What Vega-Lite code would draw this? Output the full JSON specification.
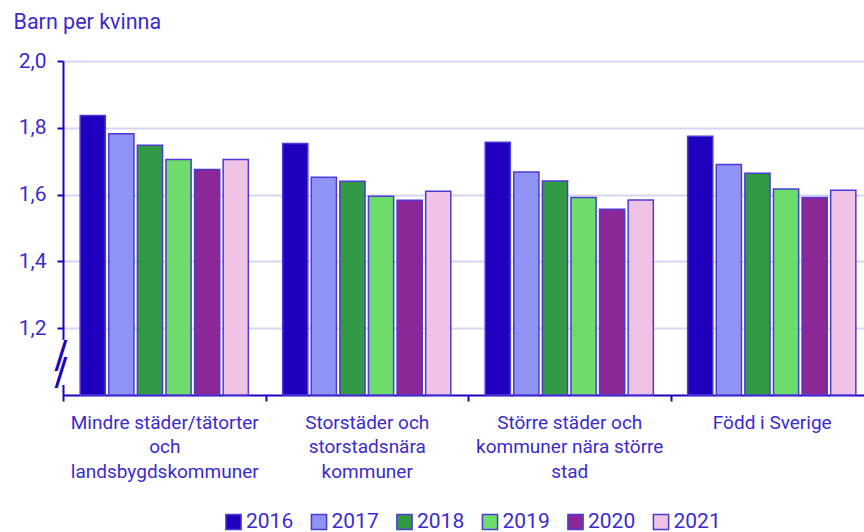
{
  "$schema": "https://vega.github.io/schema/vega-lite/v6.json",
  "width": 801,
  "height": 334,
  "autosize": {"type": "none"},
  "padding": {"left": 63, "top": 61, "right": 0, "bottom": 137},
  "background": "white",
  "config": {
    "font": "Roboto",
    "view": {"stroke": null},
    "axis": {"labelColor": "#3a2bd0", "titleColor": "#3a2bd0", "domainColor": "#2000bf", "tickColor": "#2000bf", "domainWidth": 2, "tickWidth": 2}
  },
  "data": {
    "values": [
      {"grupp": "Mindre städer/tätorter och landsbygdskommuner", "ar": "2016", "varde": 1.837},
      {"grupp": "Mindre städer/tätorter och landsbygdskommuner", "ar": "2017", "varde": 1.782},
      {"grupp": "Mindre städer/tätorter och landsbygdskommuner", "ar": "2018", "varde": 1.748},
      {"grupp": "Mindre städer/tätorter och landsbygdskommuner", "ar": "2019", "varde": 1.705},
      {"grupp": "Mindre städer/tätorter och landsbygdskommuner", "ar": "2020", "varde": 1.675},
      {"grupp": "Mindre städer/tätorter och landsbygdskommuner", "ar": "2021", "varde": 1.705},
      {"grupp": "Storstäder och storstadsnära kommuner", "ar": "2016", "varde": 1.753},
      {"grupp": "Storstäder och storstadsnära kommuner", "ar": "2017", "varde": 1.652},
      {"grupp": "Storstäder och storstadsnära kommuner", "ar": "2018", "varde": 1.640},
      {"grupp": "Storstäder och storstadsnära kommuner", "ar": "2019", "varde": 1.595},
      {"grupp": "Storstäder och storstadsnära kommuner", "ar": "2020", "varde": 1.583},
      {"grupp": "Storstäder och storstadsnära kommuner", "ar": "2021", "varde": 1.610},
      {"grupp": "Större städer och kommuner nära större stad", "ar": "2016", "varde": 1.757},
      {"grupp": "Större städer och kommuner nära större stad", "ar": "2017", "varde": 1.668},
      {"grupp": "Större städer och kommuner nära större stad", "ar": "2018", "varde": 1.641},
      {"grupp": "Större städer och kommuner nära större stad", "ar": "2019", "varde": 1.591},
      {"grupp": "Större städer och kommuner nära större stad", "ar": "2020", "varde": 1.556},
      {"grupp": "Större städer och kommuner nära större stad", "ar": "2021", "varde": 1.584},
      {"grupp": "Född i Sverige", "ar": "2016", "varde": 1.775},
      {"grupp": "Född i Sverige", "ar": "2017", "varde": 1.690},
      {"grupp": "Född i Sverige", "ar": "2018", "varde": 1.664},
      {"grupp": "Född i Sverige", "ar": "2019", "varde": 1.617},
      {"grupp": "Född i Sverige", "ar": "2020", "varde": 1.591},
      {"grupp": "Född i Sverige", "ar": "2021", "varde": 1.613}
    ]
  },
  "layer": [
    {
      "data": {"values": [{"fran": 1.03, "till": 1.165}]},
      "mark": {"type": "rule", "stroke": "white", "strokeWidth": 6},
      "encoding": {
        "x": {"value": 0},
        "y": {"field": "fran", "type": "quantitative", "scale": {"domain": [1, 2], "nice": false, "zero": false}},
        "y2": {"field": "till"}
      }
    },
    {
      "data": {"values": [{"t": "/", "pos": 1.117}, {"t": "/", "pos": 1.066}]},
      "mark": {"type": "text", "fontSize": 38, "font": "DejaVu Sans", "fontWeight": "normal", "color": "#2000bf", "baseline": "middle", "align": "center", "dx": -2},
      "encoding": {
        "x": {"value": 0},
        "y": {"field": "pos", "type": "quantitative"},
        "text": {"field": "t"}
      }
    },
    {
      "mark": {"type": "bar", "stroke": "#4b3bd6", "strokeWidth": 1.5},
      "encoding": {
        "x": {
          "field": "grupp",
          "type": "nominal",
          "sort": null,
          "scale": {"paddingInner": 0, "paddingOuter": 0, "range": [0, 810]},
          "axis": {
            "title": null,
            "labelAngle": 0,
            "labelFontSize": 19,
            "labelLimit": 0,
            "labelLineHeight": 24.5,
            "labelPadding": 12,
            "tickSize": 6,
            "tickBand": "extent",
            "labelExpr": "datum.value == 'Mindre städer/tätorter och landsbygdskommuner' ? ['Mindre städer/tätorter', 'och', 'landsbygdskommuner'] : datum.value == 'Storstäder och storstadsnära kommuner' ? ['Storstäder och', 'storstadsnära', 'kommuner'] : datum.value == 'Större städer och kommuner nära större stad' ? ['Större städer och', 'kommuner nära större', 'stad'] : datum.value"
          }
        },
        "xOffset": {"field": "ar", "type": "nominal", "scale": {"paddingInner": 0.12, "paddingOuter": 0.6}},
        "y": {
          "field": "varde",
          "type": "quantitative",
          "scale": {"domain": [1, 2], "nice": false, "zero": false},
          "axis": {
            "title": "Barn per kvinna",
            "titleAngle": 0,
            "titleAlign": "left",
            "titleBaseline": "alphabetic",
            "titleX": -50,
            "titleY": -33,
            "titleFontSize": 21.5,
            "titleFontWeight": "normal",
            "values": [1.2, 1.4, 1.6, 1.8, 2.0],
            "labelExpr": "replace(format(datum.value, '.1f'), '.', ',')",
            "labelFontSize": 21,
            "labelPadding": 11,
            "tickSize": 6,
            "gridColor": "#d6d6f2",
            "gridWidth": 2
          }
        },
        "y2": {"datum": 1},
        "color": {
          "field": "ar",
          "type": "nominal",
          "scale": {"domain": ["2016", "2017", "2018", "2019", "2020", "2021"], "range": ["#2000bf", "#8f93f3", "#329944", "#6edc6b", "#8b2796", "#f0c3e6"]},
          "legend": {
            "title": null,
            "orient": "none",
            "legendX": 160,
            "legendY": 450,
            "direction": "horizontal",
            "symbolType": "square",
            "symbolSize": 230,
            "symbolStrokeColor": "#4b3bd6",
            "symbolStrokeWidth": 1.5,
            "symbolOpacity": 1,
            "labelFontSize": 21,
            "labelColor": "#3a2bd0",
            "labelOffset": 2,
            "columnPadding": 13.5
          }
        }
      }
    }
  ]
}
